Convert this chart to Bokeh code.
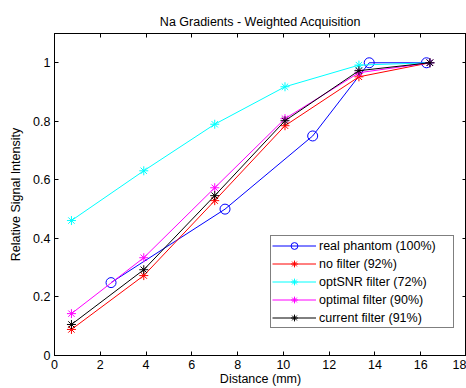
from bokeh.plotting import figure
from bokeh.models import LinearAxis, Range1d, Legend, LegendItem, FixedTicker
from bokeh.embed import file_html
from bokeh.resources import INLINE

title = "Na Gradients - Weighted Acquisition"
x_label = "Distance (mm)"
y_label = "Relative Signal Intensity"
x_phantom = [2.47, 7.45, 11.28, 13.75, 16.25]
y_phantom = [0.249, 0.50, 0.75, 1.0, 1.0]
x_filt = [0.74, 3.9, 7.0, 10.07, 13.3, 16.4]
y_nofilter = [0.089, 0.273, 0.529, 0.785, 0.952, 1.0]
y_optsnr = [0.461, 0.631, 0.79, 0.918, 0.992, 1.0]
y_optimal = [0.143, 0.334, 0.573, 0.809, 0.966, 1.0]
y_current = [0.106, 0.293, 0.546, 0.802, 0.973, 1.0]
labels = ["real phantom (100%)", "no filter (92%)", "optSNR filter (72%)",
          "optimal filter (90%)", "current filter (91%)"]
x_ticks = [0, 2, 4, 6, 8, 10, 12, 14, 16, 18]
y_ticks = [0, 0.2, 0.4, 0.6, 0.8, 1.0]

FONT = "Liberation Sans"

p = figure(width=466, height=388, output_backend="svg", toolbar_location=None,
           x_range=Range1d(0, 18), y_range=Range1d(0, 1.1),
           min_border_left=54, min_border_right=0, min_border_top=33, min_border_bottom=33,
           x_axis_label=x_label, y_axis_label=y_label)
p.title.text = title
p.title.align = "center"
p.title.text_font = FONT
p.title.text_font_size = "12.5px"
p.title.text_font_style = "normal"
p.title.text_color = "black"
p.title.offset = 0
p.grid.visible = False
p.outline_line_color = "black"
p.background_fill_color = "white"
p.border_fill_color = "white"

for ax in (p.xaxis[0], p.yaxis[0]):
    ax.major_tick_in = 4
    ax.major_tick_out = 0
    ax.minor_tick_line_color = None
    ax.major_label_text_font = FONT
    ax.major_label_text_font_size = "12.5px"
    ax.major_label_text_color = "black"
    ax.axis_label_text_font = FONT
    ax.axis_label_text_font_size = "12.5px"
    ax.axis_label_text_font_style = "normal"
    ax.axis_label_text_color = "black"
    ax.axis_line_color = "black"
    ax.major_tick_line_color = "black"
p.xaxis[0].ticker = FixedTicker(ticks=x_ticks)
p.yaxis[0].ticker = FixedTicker(ticks=y_ticks)
p.yaxis[0].axis_label_standoff = 7
p.xaxis[0].major_label_standoff = 4
p.xaxis[0].axis_label_standoff = 0
p.yaxis[0].major_label_standoff = 4

top = LinearAxis(ticker=FixedTicker(ticks=x_ticks), major_label_text_font_size="0px",
                 major_tick_in=4, major_tick_out=0, minor_tick_line_color=None,
                 major_label_standoff=0,
                 axis_line_color="black", major_tick_line_color="black")
right = LinearAxis(ticker=FixedTicker(ticks=y_ticks), major_label_text_font_size="0px",
                   major_tick_in=4, major_tick_out=0, minor_tick_line_color=None,
                   major_label_standoff=0,
                   axis_line_color="black", major_tick_line_color="black")
p.add_layout(top, "above")
p.add_layout(right, "right")

items = []
l = p.line(x_phantom, y_phantom, color="#0000ff", line_width=1)
m = p.scatter(x_phantom, y_phantom, marker="circle", size=10, fill_color=None,
              line_color="#0000ff", line_width=1)
items.append(LegendItem(label=labels[0], renderers=[l, m]))
series = [(y_nofilter, "#ff0000"), (y_optsnr, "#00ffff"), (y_optimal, "#ff00ff"), (y_current, "#000000")]
for (ys, c), lab in zip(series, labels[1:]):
    l = p.line(x_filt, ys, color=c, line_width=1)
    m = p.scatter(x_filt, ys, marker="asterisk", size=9, line_color=c, line_width=1)
    items.append(LegendItem(label=lab, renderers=[l, m]))

legend = Legend(items=items, location=(216, 27), label_text_font=FONT,
                label_text_font_size="12.5px", label_text_color="black",
                glyph_width=44, glyph_height=17, label_height=17, spacing=1,
                padding=1, margin=0, label_standoff=3, label_width=133,
                border_line_color="black", border_line_width=1,
                background_fill_alpha=1.0)
p.add_layout(legend, "center")

open("out.html", "w").write(file_html(p, INLINE))
